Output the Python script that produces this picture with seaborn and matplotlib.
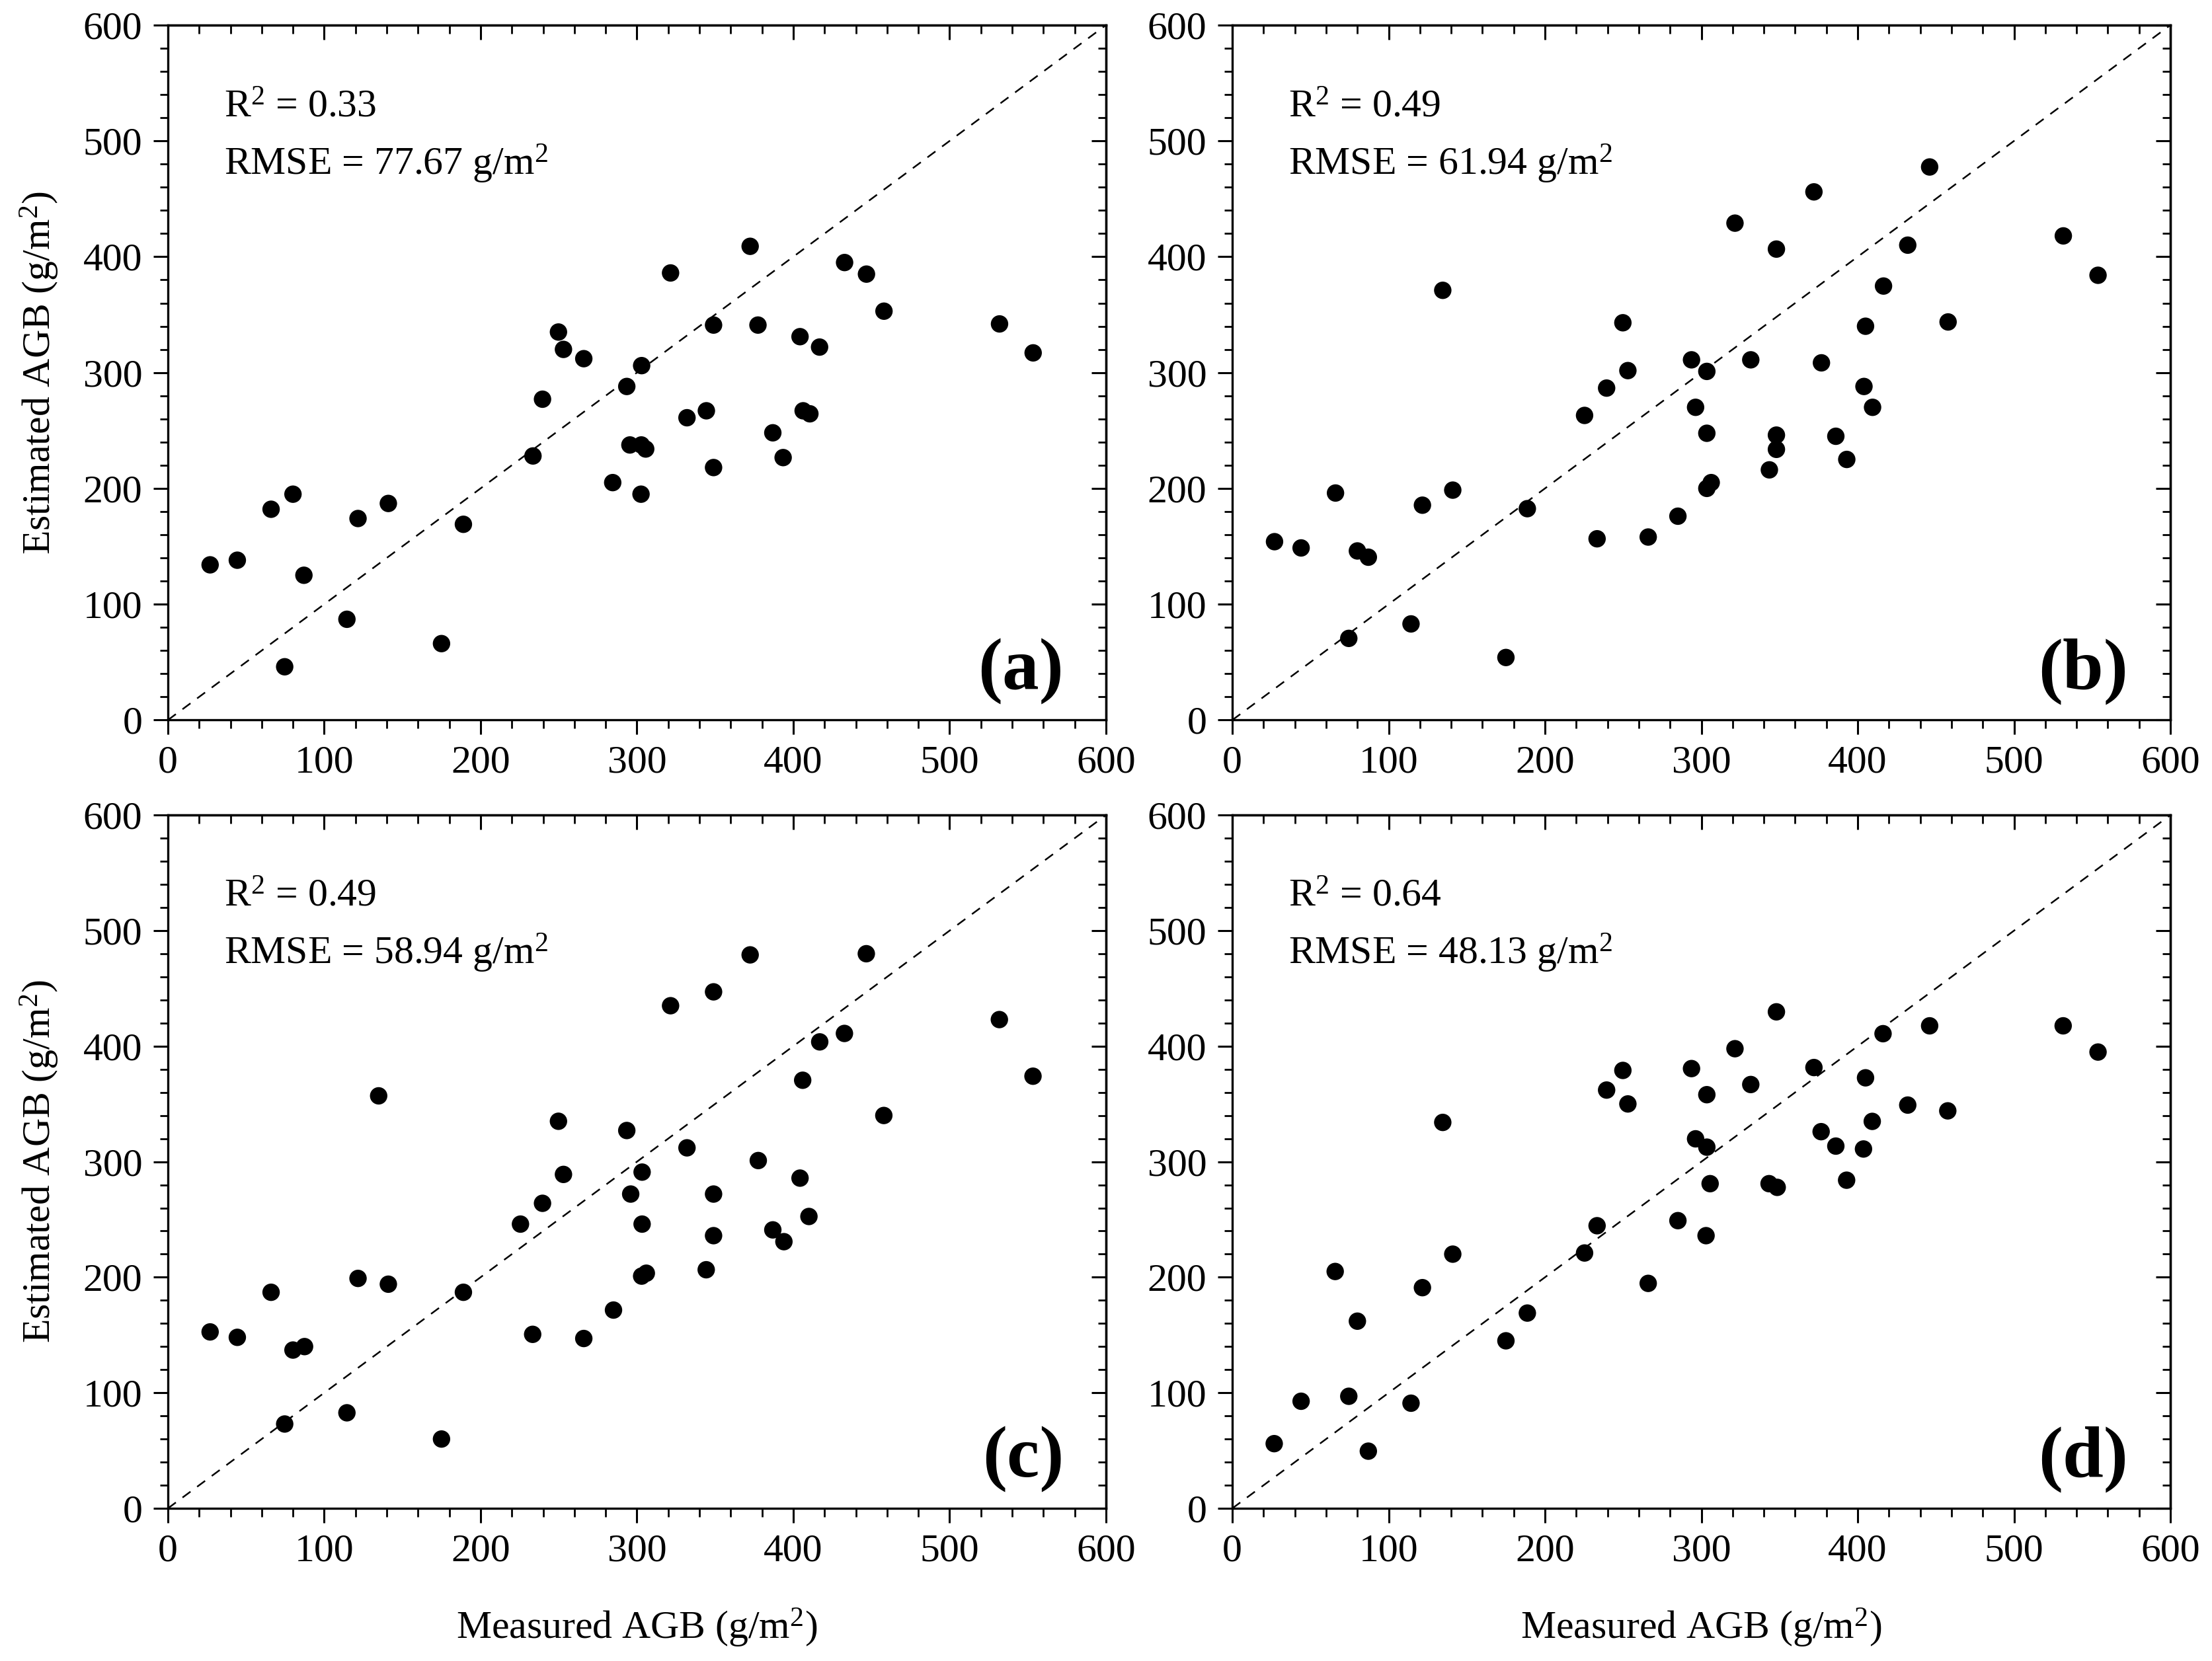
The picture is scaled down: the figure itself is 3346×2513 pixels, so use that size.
import matplotlib
matplotlib.use("Agg")
import matplotlib.pyplot as plt
from matplotlib.ticker import MultipleLocator
import seaborn as sns
import pandas as pd

# ---------------- data ----------------
a_measured = [27, 44.4, 66, 80, 87, 74.7, 114.5, 121.6, 141, 175, 189, 233.5, 239.6, 249.8,
              253, 266, 284.5, 293.5, 295.5, 302.8, 305.6, 303, 302.6, 321.5, 332, 344.4,
              349, 349, 372.4, 377.4, 386.9, 393.5, 404.3, 406.3, 410.6, 416.8, 432.8,
              446.8, 458, 531.9, 553.4]
a_estimated = [134, 138, 182, 195, 125, 46, 87, 174, 187, 66, 169, 228, 277, 335,
               320, 312, 205, 288, 237.5, 237.5, 234, 306, 195, 386, 261, 267,
               341, 218, 409, 341, 248, 226.6, 331, 267, 264.4, 322, 395,
               385, 353, 342, 317]

b_measured = [27, 44, 66, 74.5, 80, 87, 114.3, 121.6, 134.6, 141, 175, 188.7, 225.3, 233.3,
              239.4, 249.8, 253, 266, 285, 293.7, 296.3, 303.5, 303.5, 303.5, 306.3, 321.5,
              331.6, 343.5, 348, 348, 348, 372, 376.8, 386, 393, 404, 405, 409.5, 416.5,
              432, 446, 457.8, 531.5, 553.7]
b_estimated = [154, 148.6, 196, 70.5, 146, 140.6, 83, 185.5, 371, 198.5, 54, 182.5, 263, 156.5,
               286.6, 343, 301.7, 158, 176, 311, 270, 301, 247.6, 200, 205, 429,
               311, 216, 246, 233.7, 406.6, 456, 308.4, 245, 225, 288, 340, 270, 374.7,
               410, 477.5, 343.7, 418, 384]

c_measured = [27, 44.4, 66, 74.7, 80, 87.4, 114.5, 121.6, 134.8, 141, 175, 189, 225.5, 233.3,
              239.6, 249.8, 253, 266, 285, 293.5, 296, 303.3, 303.3, 303, 306, 321.5,
              332, 344.3, 349, 349, 349, 372.4, 377.6, 386.9, 394, 404.3, 406, 410, 416.9,
              432.7, 446.7, 457.9, 531.8, 553.3]
c_estimated = [152.7, 148, 187, 73, 137, 140, 82.7, 199, 357, 194, 60, 187, 246, 150.6,
               264, 335, 289, 147, 171.6, 327, 272, 291, 246, 201, 203.5, 435,
               312, 206.5, 447, 272, 236, 479, 301, 241, 230.8, 285.8, 370.5, 252.6, 403.7,
               411, 480, 340, 423, 374]

d_measured = [26.8, 44, 65.8, 74.5, 80, 87, 114.3, 121.6, 134.6, 141, 175, 188.7, 225.3, 233.3,
              239.4, 249.8, 253, 266, 285, 293.7, 296.3, 303.5, 303.5, 305.6, 303, 321.5,
              331.6, 343.3, 348.5, 348, 372, 376.6, 386, 392.9, 403.7, 405, 409.3, 416.2,
              432, 446, 457.6, 531.4, 553.7]
d_estimated = [56, 92.7, 205, 97, 162, 49.5, 91, 191, 334, 220, 145, 169, 221, 244.6,
               362, 379, 350, 194.7, 249, 380.6, 319.8, 312.6, 358, 281, 236, 397.8,
               366.8, 281, 277.8, 429.7, 381.5, 326, 313.5, 284, 311, 372.6, 334.9, 410.8,
               349, 417.6, 344, 417.6, 394.9]

panel_labels = ["(a)", "(b)", "(c)", "(d)"]
r2_values = ["0.33", "0.49", "0.49", "0.64"]
rmse_values = ["77.67", "61.94", "58.94", "48.13"]
tick_values = [0, 100, 200, 300, 400, 500, 600]

# ---------------- style ----------------
sns.set_theme(style="ticks")
plt.rcParams["font.family"] = ["Liberation Serif", "DejaVu Serif"]
plt.rcParams["mathtext.fontset"] = "custom"
plt.rcParams["mathtext.rm"] = "Liberation Serif"
plt.rcParams["mathtext.it"] = "Liberation Serif:italic"
plt.rcParams["mathtext.bf"] = "Liberation Serif:bold"
plt.rcParams["axes.linewidth"] = 1.2
plt.rcParams["text.color"] = "black"
plt.rcParams["axes.labelcolor"] = "black"
plt.rcParams["xtick.color"] = "black"
plt.rcParams["ytick.color"] = "black"
plt.rcParams["axes.edgecolor"] = "black"
FS = 21.5

fig = plt.figure(figsize=(16.73, 12.565), dpi=200)
positions = [
    [0.0759, 0.5665, 0.4241, 0.4184],
    [0.5571, 0.5665, 0.4241, 0.4184],
    [0.0759, 0.0919, 0.4241, 0.4174],
    [0.5571, 0.0919, 0.4241, 0.4174],
]
datasets = [(a_measured, a_estimated), (b_measured, b_estimated),
            (c_measured, c_estimated), (d_measured, d_estimated)]

for i, (pos, (mx, ey)) in enumerate(zip(positions, datasets)):
    ax = fig.add_axes(pos)
    df = pd.DataFrame({"Measured": mx, "Estimated": ey})
    ax.axline((0, 0), slope=1, color="black", lw=0.9, linestyle=(0, (6, 5)), zorder=1)
    sns.scatterplot(data=df, x="Measured", y="Estimated", ax=ax, color="black",
                    s=90, edgecolor="none", linewidth=0, zorder=3, legend=False)
    ax.set_xlim(0, 600)
    ax.set_ylim(0, 600)
    ax.set_xticks(tick_values)
    ax.set_yticks(tick_values)
    ax.xaxis.set_minor_locator(MultipleLocator(20))
    ax.yaxis.set_minor_locator(MultipleLocator(20))
    ax.tick_params(which="major", direction="out", length=7.9, width=1.1,
                   labelsize=FS, pad=6, colors="black")
    ax.tick_params(which="minor", direction="out", length=4.5, width=1.0, colors="black")
    for sp in ax.spines.values():
        sp.set_color("black")
        sp.set_linewidth(1.2)

    # inward ticks on the top and right edges
    top = ax.secondary_xaxis("top")
    top.set_xticks(tick_values)
    top.xaxis.set_minor_locator(MultipleLocator(20))
    top.tick_params(which="major", direction="in", length=7.9, width=1.1, labeltop=False)
    top.tick_params(which="minor", direction="in", length=4.5, width=1.0)
    right = ax.secondary_yaxis("right")
    right.set_yticks(tick_values)
    right.yaxis.set_minor_locator(MultipleLocator(20))
    right.tick_params(which="major", direction="in", length=7.9, width=1.1, labelright=False)
    right.tick_params(which="minor", direction="in", length=4.5, width=1.0)

    if i in (0, 2):
        ax.set_ylabel("Estimated AGB (g/m$^2$)", fontsize=FS, labelpad=12, color="black")
    else:
        ax.set_ylabel("")
    if i in (2, 3):
        ax.set_xlabel("Measured AGB (g/m$^2$)", fontsize=FS, labelpad=20, color="black")
    else:
        ax.set_xlabel("")

    ax.text(36, 521, "R$^2$ = " + r2_values[i], fontsize=FS, ha="left", va="baseline",
            color="black")
    ax.text(36, 471, "RMSE = " + rmse_values[i] + " g/m$^2$", fontsize=FS,
            ha="left", va="baseline", color="black")
    ax.text(573, 27, panel_labels[i], fontsize=40, fontweight="bold",
            ha="right", va="baseline", color="black")

fig.savefig("out.png", dpi=200, facecolor="white")
